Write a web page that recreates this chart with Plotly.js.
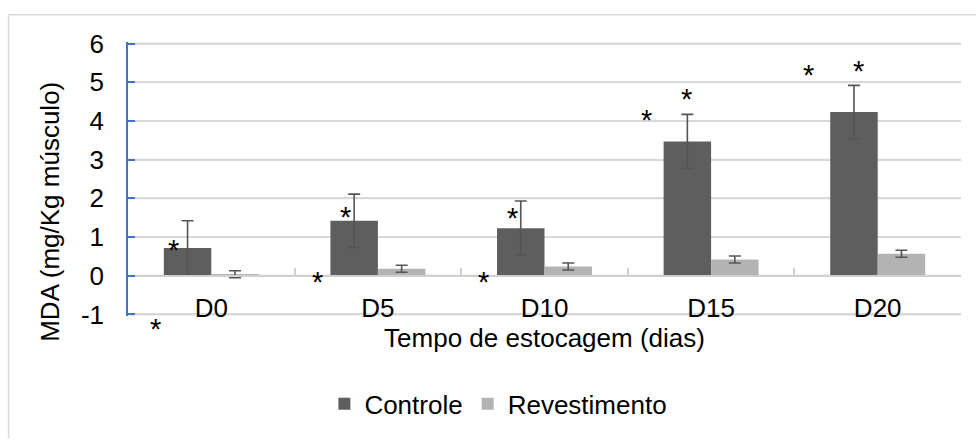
<!DOCTYPE html>
<html>
<head>
<meta charset="utf-8">
<script src="https://cdn.plot.ly/plotly-3.0.1.min.js"></script>
<style>html,body{margin:0;padding:0;background:#fff;}#chart{width:976px;height:440px;}</style>
</head>
<body>
<div id="chart"></div>
<script>
const categories = ['D0', 'D5', 'D10', 'D15', 'D20'];
const controle = [0.72, 1.42, 1.23, 3.47, 4.23];
const controleErr = [0.70, 0.69, 0.70, 0.70, 0.69];
const revestimento = [0.04, 0.18, 0.24, 0.42, 0.57];
const revestimentoErr = [0.09, 0.09, 0.09, 0.09, 0.09];
const seriesNames = ['Controle', 'Revestimento'];
// significance asterisks: anchor in category index / MDA units
const starX = [-0.228, -0.336, 0.808, 0.640, 1.807, 1.632, 2.614, 2.85, 3.585, 3.882];
const starY = [0.80, -1.25, 1.65, -0.02, 1.63, -0.04, 4.15, 4.70, 5.32, 5.42];
const yTicks = [-1, 0, 1, 2, 3, 4, 5, 6];

const FONT = 'Liberation Sans, Arial, sans-serif';
const FS = 26;
const PAD = 0.04; // tiny range padding so the -1 and 6 gridlines are fully visible
const Y_MIN = -1 - PAD, Y_MAX = 6 + PAD;

const traces = [
  {
    type: 'bar', name: seriesNames[0], x: categories, y: controle,
    marker: {color: '#5e5e5e', line: {width: 0}},
    error_y: {type: 'data', array: controleErr, visible: true, color: '#555555', thickness: 1.6, width: 6}
  },
  {
    type: 'bar', name: seriesNames[1], x: categories, y: revestimento,
    marker: {color: '#b3b3b3', line: {width: 0}},
    error_y: {type: 'data', array: revestimentoErr, visible: true, color: '#555555', thickness: 1.6, width: 6}
  }
];

const W = 976, H = 440, L = 127.5, R = 15;
const UNIT = 39.33; // px per MDA unit
const T = 43.3 - PAD * UNIT, B = 121 - PAD * UNIT;
const pw = W - L - R, ph = H - T - B;
function px2paperX(p) { return (p - L) / pw; }
function px2paperY(p) { return (H - B - p) / ph; }
function yToPaper(v) { return (v - Y_MIN) / (Y_MAX - Y_MIN); }

const annotations = starX.map((sx, i) => ({
  x: sx, y: yToPaper(starY[i]), xref: 'x', yref: 'paper', text: '*', showarrow: false,
  font: {family: FONT, size: 29, color: '#000'}, xanchor: 'center', yanchor: 'middle', yshift: -5
}));
annotations.push({
  xref: 'paper', yref: 'paper', x: px2paperX(50), y: px2paperY(215), text: 'MDA (mg/Kg músculo)',
  textangle: -90, showarrow: false, font: {family: FONT, size: FS, color: '#000'},
  xanchor: 'center', yanchor: 'middle'
});

// horizontal gridlines at the y ticks, drawn through the y scale
const gridShapes = yTicks.map(v => ({
  type: 'line', xref: 'paper', yref: 'y', x0: 0, x1: 1, y0: v, y1: v, layer: 'below',
  line: {color: v === 0 ? '#d0d0d0' : '#d9d9d9', width: 2}
}));
const frameShapes = [
  {type: 'line', xref: 'paper', yref: 'paper', x0: px2paperX(8), x1: px2paperX(980), y0: px2paperY(14), y1: px2paperY(14), line: {color: '#d9d9d9', width: 1.5}},
  {type: 'line', xref: 'paper', yref: 'paper', x0: px2paperX(8), x1: px2paperX(8), y0: px2paperY(14), y1: px2paperY(445), line: {color: '#d9d9d9', width: 1.5}}
];

const layout = {
  width: W, height: H,
  margin: {l: L, r: R, t: T, b: B, pad: 0},
  paper_bgcolor: '#ffffff', plot_bgcolor: 'rgba(0,0,0,0)',
  font: {family: FONT, size: FS, color: '#000'},
  barmode: 'group', bargap: 0.43, bargroupgap: 0,
  showlegend: true,
  legend: {
    orientation: 'h', x: px2paperX(324), y: px2paperY(410), xanchor: 'left', yanchor: 'middle',
    font: {family: FONT, size: FS, color: '#000'}, itemwidth: 30, traceorder: 'normal',
    bgcolor: 'rgba(0,0,0,0)'
  },
  xaxis: {
    type: 'category', range: [-0.5, 4.5], automargin: false,
    anchor: 'free', position: yToPaper(0),
    showline: true, linecolor: '#d0d0d0', linewidth: 2,
    ticks: 'inside', tickson: 'boundaries', ticklen: 7, tickcolor: '#d0d0d0', tickwidth: 1.5,
    showgrid: false, zeroline: false,
    tickfont: {family: FONT, size: FS, color: '#000'},
    ticklabelstandoff: 9,
    title: {text: 'Tempo de estocagem (dias)', font: {family: FONT, size: FS, color: '#000'}, standoff: 0}
  },
  yaxis: {
    range: [Y_MIN, Y_MAX], automargin: false, tickvals: yTicks, ticktext: yTicks.map(String),
    showline: true, linecolor: '#4472C4', linewidth: 1.5,
    ticks: 'inside', ticklen: 7, tickcolor: '#4472C4', tickwidth: 1.5,
    showgrid: true, gridcolor: '#d9d9d9', gridwidth: 2, zeroline: false,
    tickfont: {family: FONT, size: FS, color: '#000'},
    ticklabelstandoff: 17
  },
  annotations: annotations,
  shapes: gridShapes.concat(frameShapes),
  hovermode: false
};

Plotly.newPlot('chart', traces, layout, {displayModeBar: false});
</script>
</body>
</html>
